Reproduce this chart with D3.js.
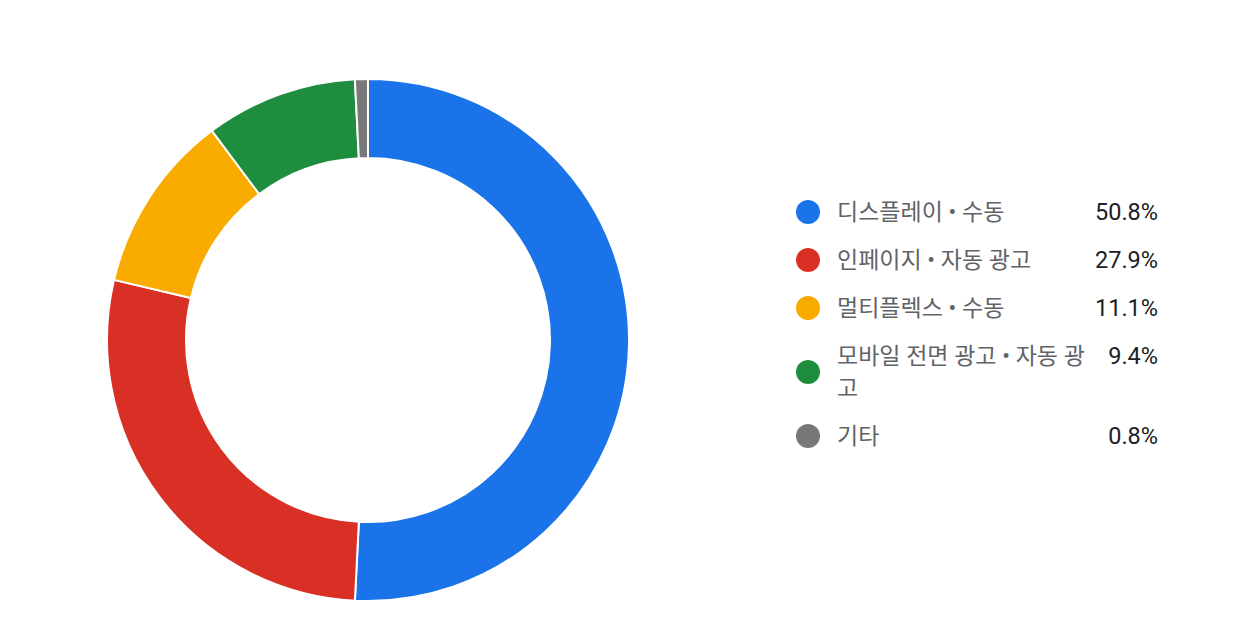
<!DOCTYPE html>
<html lang="ko">
<head>
    <meta charset="UTF-8">
    <title>Chart</title>
    <script src="https://cdnjs.cloudflare.com/ajax/libs/d3/7.8.2/d3.min.js"></script>
    <style>
        body { margin: 0; background: #fff; }
        svg { display: block; font-family: Roboto, "Noto Sans CJK KR", sans-serif; }
    </style>
</head>
<body>
    <div class="container"></div>
    <script>
        // data
        const categories = ['디스플레이 • 수동', '인페이지 • 자동 광고', '멀티플렉스 • 수동', '모바일 전면 광고 • 자동 광고', '기타'];
        const values = [50.8, 27.9, 11.1, 9.4, 0.8];
        const colors = ['#1a73e8', '#d93025', '#f9ab00', '#1e8e3e', '#787878'];

        let width = 1248;
        let height = 636;
        let cx = 368, cy = 340;
        let outerR = 261, innerR = 182;

        const svg = d3.select('.container').append('svg')
            .attr('width', width).attr('height', height);

        const pie = d3.pie().sort(null).value(d => d)(values);
        const arc = d3.arc().innerRadius(innerR).outerRadius(outerR);

        svg.append('g')
            .attr('transform', `translate(${cx},${cy})`)
            .selectAll('path')
            .data(pie)
            .enter()
            .append('path')
            .attr('d', arc)
            .attr('fill', (d, i) => colors[i])
            .attr('stroke', '#fff')
            .attr('stroke-width', 2);

        // legend
        const legendX = 808, textX = 837, pctX = 1158;
        const maxTextW = 258;
        let y = 212;
        const legend = svg.append('g');

        categories.forEach((name, i) => {
            const row = legend.append('g');
            const label = row.append('text')
                .attr('x', textX)
                .attr('fill', '#5f6368')
                .attr('font-size', 23)
                .attr('dominant-baseline', 'central');

            // wrap by character
            let lines = [];
            let cur = '';
            const probe = label.append('tspan');
            for (const ch of name) {
                probe.text(cur + ch);
                if (probe.node().getComputedTextLength() > maxTextW && cur.length) {
                    lines.push(cur.trimEnd());
                    cur = ch.trim() ? ch : '';
                } else {
                    cur += ch;
                }
            }
            lines.push(cur);
            probe.remove();

            lines.forEach((l, j) => {
                label.append('tspan').attr('x', textX).attr('y', y + j * 32).text(l);
            });

            const midY = y + (lines.length - 1) * 16;
            row.append('circle')
                .attr('cx', legendX).attr('cy', midY).attr('r', 12)
                .attr('fill', colors[i]);

            row.append('text')
                .attr('x', pctX).attr('y', y)
                .attr('text-anchor', 'end')
                .attr('dominant-baseline', 'central')
                .attr('fill', '#202124')
                .attr('font-size', 23.5)
                .text(values[i].toFixed(1) + '%');

            y += 48 + (lines.length - 1) * 32;
        });
    </script>
</body>
</html>
